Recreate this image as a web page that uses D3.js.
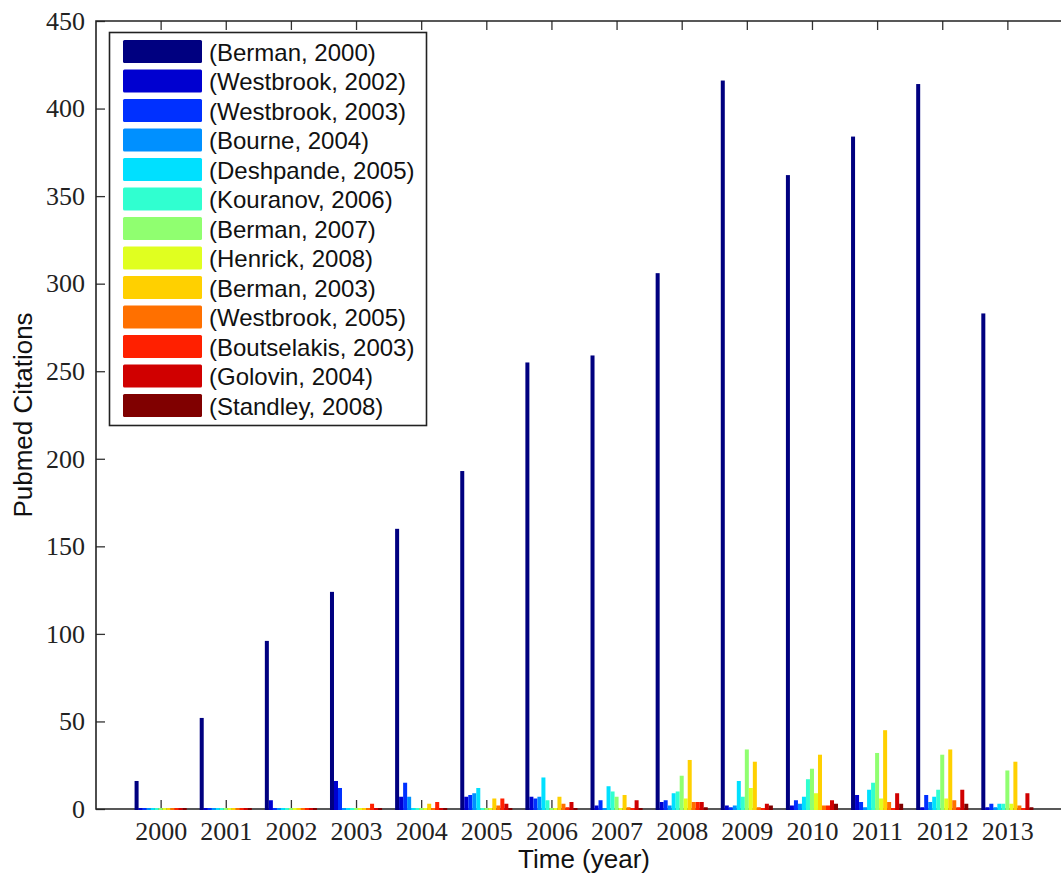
<!DOCTYPE html>
<html>
<head>
<meta charset="utf-8">
<script src="https://cdn.jsdelivr.net/npm/d3@7"></script>
<style>
  body { margin: 0; background: #fff; overflow: hidden; }
  .tick text { font-family: "Liberation Serif", "Times New Roman", serif; font-size: 26px; fill: #222; }
  .tick line { stroke: #333; stroke-width: 1.3; }
</style>
</head>
<body>
<script>
// years on the x axis
var years = [2000, 2001, 2002, 2003, 2004, 2005, 2006, 2007, 2008, 2009, 2010, 2011, 2012, 2013];

// legend labels, in the bar order
var papers = ["(Berman, 2000)", "(Westbrook, 2002)", "(Westbrook, 2003)", "(Bourne, 2004)",
  "(Deshpande, 2005)", "(Kouranov, 2006)", "(Berman, 2007)", "(Henrick, 2008)",
  "(Berman, 2003)", "(Westbrook, 2005)", "(Boutselakis, 2003)", "(Golovin, 2004)", "(Standley, 2008)"];

// citations per year, one array per paper
var berman2000      = [16, 52, 96, 124, 160, 193, 255, 259, 306, 416, 362, 384, 414, 283];
var westbrook2002   = [0, 0, 5, 16, 7, 7, 7, 2, 4, 2, 2, 8, 1, 1];
var westbrook2003   = [0, 0, 0, 12, 15, 8, 6, 5, 5, 1, 5, 4, 8, 3];
var bourne2004      = [0, 0, 0, 0, 7, 9, 7, 0, 2, 2, 3, 1, 4, 1];
var deshpande2005   = [0, 0, 0, 0, 0, 12, 18, 13, 9, 16, 7, 11, 7, 3];
var kouranov2006    = [0, 0, 0, 0, 0, 0, 5, 10, 10, 7, 17, 15, 11, 3];
var berman2007      = [0, 0, 0, 0, 0, 0, 0, 7, 19, 34, 23, 32, 31, 22];
var henrick2008     = [0, 0, 0, 0, 0, 0, 0, 0, 6, 12, 9, 6, 6, 3];
var berman2003      = [0, 0, 0, 0, 3, 6, 7, 8, 28, 27, 31, 45, 34, 27];
var westbrook2005   = [0, 0, 0, 0, 0, 2, 3, 1, 4, 1, 2, 4, 5, 2];
var boutselakis2003 = [0, 0, 0, 3, 4, 6, 1, 0, 4, 0, 2, 0, 1, 0];
var golovin2004     = [0, 0, 0, 0, 0, 3, 4, 5, 4, 3, 5, 9, 11, 9];
var standley2008    = [0, 0, 0, 0, 0, 0, 0, 0, 1, 2, 3, 3, 3, 1];

var yTicks = [0, 50, 100, 150, 200, 250, 300, 350, 400, 450];

var series = [berman2000, westbrook2002, westbrook2003, bourne2004, deshpande2005, kouranov2006,
  berman2007, henrick2008, berman2003, westbrook2005, boutselakis2003, golovin2004, standley2008];

// jet-like colormap, 13 steps
var colors = ["#000080", "#0000d0", "#0030ff", "#0090ff", "#00e0ff", "#30ffd0", "#90ff70",
  "#e0ff20", "#ffd000", "#ff7000", "#ff2000", "#d00000", "#800000"];

var W = 1061, H = 875;
var plotLeft = 96, plotTop = 21, plotBottom = 809;

var x = d3.scaleLinear().domain([1999, 2014]).range([95.5, 1072.5]);
var y = d3.scaleLinear().domain([0, 450]).range([plotBottom, plotTop]);

// groups take 0.8 of a year, bars fill their slot
var groupW = 0.8 * (x(2001) - x(2000));
var inner = d3.scaleBand()
    .domain(d3.range(papers.length))
    .range([-groupW / 2, groupW / 2])
    .padding(0);

var svg = d3.select("body").append("svg")
    .attr("width", W)
    .attr("height", H);

// ticks (inward, like matlab)
svg.append("g")
    .attr("transform", "translate(" + plotLeft + ",0)")
    .call(d3.axisLeft(y).tickValues(yTicks).tickSize(-9).tickPadding(11))
    .call(function(g) { g.select(".domain").remove(); });

svg.append("g")
    .attr("transform", "translate(0," + plotBottom + ")")
    .call(d3.axisBottom(x).tickValues(years).tickFormat(d3.format("d")).tickSize(-9).tickPadding(13))
    .call(function(g) { g.select(".domain").remove(); });

svg.append("g")
    .attr("transform", "translate(0," + plotTop + ")")
    .call(d3.axisTop(x).tickValues(years).tickFormat("").tickSize(-9))
    .call(function(g) { g.select(".domain").remove(); });

// frame
svg.append("path")
    .attr("d", "M" + W + "," + plotTop + "H" + plotLeft + "V" + plotBottom + "H" + W)
    .attr("fill", "none")
    .attr("stroke", "#222")
    .attr("stroke-width", 1.6);

// bars
series.forEach(function(vals, i) {
  svg.append("g")
      .attr("fill", colors[i])
      .selectAll("rect")
      .data(vals)
      .enter().append("rect")
      .attr("x", function(d, j) { return x(years[j]) + inner(i); })
      .attr("width", inner.bandwidth())
      .attr("y", function(d) { return Math.min(y(d), plotBottom - 1); })
      .attr("height", function(d) { return Math.max(plotBottom - y(d), 1) + 1; });
});

// legend
var lg = svg.append("g");
lg.append("rect")
    .attr("x", 109.5).attr("y", 32.5)
    .attr("width", 317).attr("height", 393)
    .attr("fill", "#fff")
    .attr("stroke", "#222")
    .attr("stroke-width", 1.6);

var item = lg.selectAll(".item")
    .data(papers)
    .enter().append("g")
    .attr("transform", function(d, i) { return "translate(0," + (40 + i * 29.5) + ")"; });

item.append("rect")
    .attr("x", 123).attr("y", 0)
    .attr("width", 79).attr("height", 23)
    .attr("rx", 1.5)
    .attr("fill", function(d, i) { return colors[i]; });

item.append("text")
    .attr("x", 209).attr("y", 20.5)
    .style("font-family", "'Liberation Sans', Arial, sans-serif")
    .style("font-size", "24px")
    .attr("fill", "#111")
    .text(function(d) { return d; });

// axis titles
svg.append("text")
    .attr("text-anchor", "middle")
    .attr("transform", "translate(32," + ((plotTop + plotBottom) / 2) + ")rotate(-90)")
    .style("font-family", "'Liberation Sans', Arial, sans-serif")
    .style("font-size", "26px")
    .attr("fill", "#111")
    .text("Pubmed Citations");

svg.append("text")
    .attr("text-anchor", "middle")
    .attr("x", (x(1999) + x(2014)) / 2)
    .attr("y", 868)
    .style("font-family", "'Liberation Sans', Arial, sans-serif")
    .style("font-size", "26px")
    .attr("fill", "#111")
    .text("Time (year)");
</script>
</body>
</html>
